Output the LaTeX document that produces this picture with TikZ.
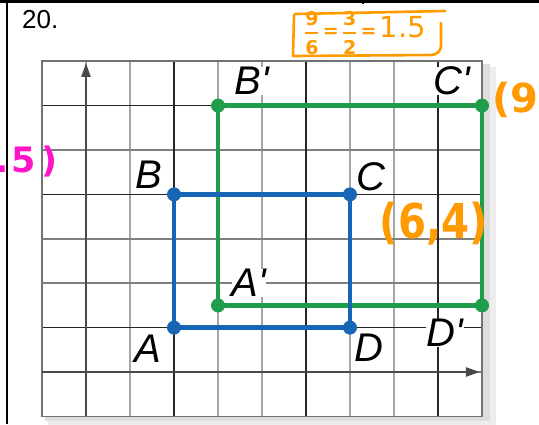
\documentclass[tikz,border=0pt]{standalone}
\usepackage{amsmath}
\usepackage{fontspec}
\setmainfont{Liberation Sans}
\newfontfamily\lab{Liberation Sans}[Ligatures=TeXOff]
\newfontfamily\hand{DejaVu Sans}
\usetikzlibrary{arrows.meta}
\definecolor{sqblue}{HTML}{1766B5}
\definecolor{sqgreen}{HTML}{1F9D4A}
\definecolor{hor}{HTML}{FF9A00}
\definecolor{hmag}{HTML}{FF14C8}
\definecolor{axisgray}{HTML}{4A4A4A}
\tikzset{
  vgrid/.style={draw=black!35, line width=1.6pt},
  hgrid/.style={draw=black!50, line width=1.6pt},
  darkgrid/.style={draw=black!85, line width=1.2pt},
  gridborder/.style={draw=black!55, line width=1.8pt},
  axisline/.style={draw=axisgray, line width=2.6pt, -{Triangle[length=14pt,width=9pt]}},
  ptlabel/.style={font=\lab\itshape\fontsize{40}{40}\selectfont, fill=white, inner sep=0.3pt},
  blueline/.style={draw=sqblue, line width=4.6pt},
  greenline/.style={draw=sqgreen, line width=4.6pt},
  handtext/.style={inner sep=0pt},
}
\begin{document}
\begin{tikzpicture}[x=1pt,y=-1pt]
\useasboundingbox (0,0) rectangle (539,424);
\clip (0,0) rectangle (539,424);
\fill[white] (0,0) rectangle (539,424);
% frame
\draw[line width=3pt] (0,1.5) -- (539,1.5);
\draw[line width=2pt] (363,0) -- (363,4);
\draw[line width=2.6pt] (7,0) -- (7,32);
\draw[line width=1.1pt] (7,32) -- (7,424);
\node[font=\fontsize{26}{26}\selectfont, anchor=base west, inner sep=0pt] (num) at (22,28.5) {20.};
% shadow
\fill[black!7] (48,67) rectangle (496,426);
\fill[black!13] (45,64) rectangle (490,421);
\fill[white] (42,61) rectangle (482,416);
\coordinate (O) at (86,372);
\begin{scope}[shift={(O)}, x=44pt, y=44.4pt]
  \foreach \i in {-1,...,9} \draw[vgrid] (\i,-1) -- (\i,7);
  \foreach \j in {-1,...,7} \draw[hgrid] (-1,\j) -- (9,\j);
  \foreach \i in {2,5,8} \draw[darkgrid] (\i,-1) -- (\i,7);
  \foreach \j in {1,4,6} \draw[darkgrid] (-1,\j) -- (9,\j);
  \draw[gridborder] (-1,-1) rectangle (9,7);
  \coordinate (xs) at (-1,0); \coordinate (xe) at (8.95,0);
  \coordinate (ys) at (0,-1); \coordinate (ye) at (0,6.96);
  \draw[axisline] (xs) -- (xe);
  \draw[axisline] (ys) -- (ye);
  \coordinate (A) at (2,1); \coordinate (B) at (2,4);
  \coordinate (C) at (6,4); \coordinate (D) at (6,1);
  \coordinate (A') at (3,1.5); \coordinate (B') at (3,6);
  \coordinate (C') at (9,6); \coordinate (D') at (9,1.5);
\end{scope}
% labels
\node[ptlabel] (lB') at (252,81) {B'};
\node[ptlabel] (lC') at (452,81) {C'};
\node[ptlabel] (lB) at (149,175) {B};
\node[ptlabel] (lC) at (371,177) {C};
\node[ptlabel] (lA') at (249,283) {A'};
\node[ptlabel] (lA) at (148,349) {A};
\node[ptlabel] (lD) at (369,348) {D};
\node[ptlabel] (lD') at (445,333) {D'};
% rectangles
\draw[greenline] (A') -- (B') -- (C') -- (D') -- cycle;
\draw[blueline] (A) -- (B) -- (C) -- (D) -- cycle;
\foreach \p in {A',B',C',D'} \fill[sqgreen] (\p) circle[radius=7pt];
\foreach \p in {A,B,C,D} \fill[sqblue] (\p) circle[radius=7pt];
% handwritten notes
\draw[hor, line width=2.6pt, line cap=round] (295,14) -- (445,11);
\draw[hor, line width=2.6pt, line cap=round, line join=round] (441,23) -- (441,46) to[out=-90,in=0] (431,55) -- (293,56) -- (294,15);
\node[handtext, text=hor, font=\hand\bfseries\fontsize{19}{19}\selectfont] (ratio) at (365,33)
  {$\genfrac{}{}{2pt}{0}{\hbox{9}}{\hbox{6}}\hbox{\,=\,}\genfrac{}{}{2pt}{0}{\hbox{3}}{\hbox{2}}\hbox{\,=\,}\hbox{\mdseries\fontsize{29}{29}\selectfont 1.5}$};
\node[handtext, text=hor, font=\hand\bfseries\fontsize{48}{48}\selectfont, anchor=base] (p64) at (434,238) {\scalebox{0.84}[1]{(6,4)}};
\node[handtext, text=hor, font=\hand\bfseries\fontsize{40}{40}\selectfont, anchor=base west] (p96) at (492,112) {(9,};
\node[handtext, text=hmag, font=\hand\bfseries\fontsize{35}{35}\selectfont, anchor=base west] (pm) at (-5,172) {.\hspace{3pt}5\hspace{6pt})};
\end{tikzpicture}
\end{document}
